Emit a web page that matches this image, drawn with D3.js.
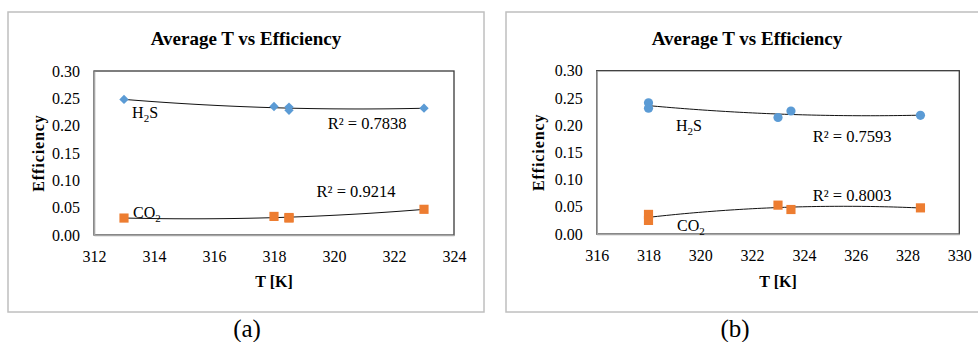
<!DOCTYPE html>
<html>
<head>
<meta charset="utf-8">
<script src="https://cdn.jsdelivr.net/npm/d3@7"></script>
<style>
  html, body { margin: 0; padding: 0; background: #fff; }
  svg { display: block; }
</style>
</head>
<body>
<svg id="chart" width="978" height="342"></svg>
<script>
// ---- data: panel (a) ----
const tempA = [313, 318, 318.5, 318.5, 323];
const h2sA  = [0.248, 0.235, 0.234, 0.228, 0.232];
const co2A  = [0.031, 0.034, 0.031, 0.032, 0.047];
const r2A   = ["R² = 0.7838", "R² = 0.9214"];
const xTicksA = [312, 314, 316, 318, 320, 322, 324];

// ---- data: panel (b) ----
const tempB = [318, 318, 323, 323.5, 328.5];
const h2sB  = [0.241, 0.231, 0.214, 0.226, 0.218];
const co2B  = [0.036, 0.025, 0.053, 0.045, 0.048];
const r2B   = ["R² = 0.7593", "R² = 0.8003"];
const xTicksB = [316, 318, 320, 322, 324, 326, 328, 330];

const yTicks = [0, 0.05, 0.10, 0.15, 0.20, 0.25, 0.30];
const titleText = "Average T vs Efficiency";

const BLUE = "#5B9BD5", ORANGE = "#ED7D31";
const FONT = "'Liberation Serif', 'Times New Roman', serif";

// least-squares quadratic trendline (order-2 polynomial fit)
function quadFit(xs, ys) {
  const m = d3.mean(xs);
  const u = xs.map(x => x - m);
  const s = k => d3.sum(u, v => Math.pow(v, k));
  const t = k => d3.sum(u, (v, i) => Math.pow(v, k) * ys[i]);
  const A = [[s(0), s(1), s(2)], [s(1), s(2), s(3)], [s(2), s(3), s(4)]];
  const B = [t(0), t(1), t(2)];
  for (let i = 0; i < 3; i++) {
    for (let j = i + 1; j < 3; j++) {
      const f = A[j][i] / A[i][i];
      for (let k = i; k < 3; k++) A[j][k] -= f * A[i][k];
      B[j] -= f * B[i];
    }
  }
  const c = [0, 0, 0];
  for (let i = 2; i >= 0; i--) {
    let v = B[i];
    for (let k = i + 1; k < 3; k++) v -= A[i][k] * c[k];
    c[i] = v / A[i][i];
  }
  return x => c[0] + c[1] * (x - m) + c[2] * (x - m) * (x - m);
}

const svg = d3.select("#chart");

// layout of each panel (pixels)
const panels = [
  {
    box: [8, 12, 476, 300], plot: [94, 71, 454, 235], titleX: 246,
    xDomain: [312, 324], xTicks: xTicksA, temps: tempA, h2s: h2sA, co2: co2A, r2: r2A,
    h2sMarker: "diamond", caption: "(a)", captionX: 247, yTitleX: 44,
    labels: { h2s: [313.27, 0.2146], r2h: [319.79, 0.1939], r2c: [319.42, 0.0701], co2: [313.3, 0.0311] }
  },
  {
    box: [506, 12, 480, 300], plot: [596.7, 70.7, 959.3, 234], titleX: 747,
    xDomain: [316, 330], xTicks: xTicksB, temps: tempB, h2s: h2sB, co2: co2B, r2: r2B,
    h2sMarker: "circle", caption: "(b)", captionX: 735, yTitleX: 543.5,
    labels: { h2s: [319.06, 0.1892], r2h: [324.34, 0.1696], r2c: [324.34, 0.0612], co2: [319.1, 0.0061] }
  }
];

panels.forEach(p => {
  const [bx, by, bw, bh] = p.box;
  const [x0, y0, x1, y1] = p.plot;
  const g = svg.append("g");

  g.append("rect").attr("x", bx).attr("y", by).attr("width", bw).attr("height", bh)
    .attr("fill", "#fff").attr("stroke", "#BFBFBF").attr("stroke-width", 1.5);

  const x = d3.scaleLinear().domain(p.xDomain).range([x0, x1]);
  const y = d3.scaleLinear().domain([0, 0.30]).range([y1, y0]);

  // plot area frame
  g.append("rect").attr("x", x0).attr("y", y0).attr("width", x1 - x0).attr("height", y1 - y0)
    .attr("fill", "none").attr("stroke", "#3A3A3A").attr("stroke-width", 1.3);

  // axes
  const ax = g.append("g").attr("transform", `translate(0,${y1})`)
    .call(d3.axisBottom(x).tickValues(p.xTicks).tickFormat(d3.format("d")).tickSize(0).tickPadding(15.5));
  const ay = g.append("g").attr("transform", `translate(${x0},0)`)
    .call(d3.axisLeft(y).tickValues(yTicks).tickFormat(d3.format(".2f")).tickSize(0).tickPadding(14));
  [ax, ay].forEach(a => {
    a.select(".domain").attr("stroke", "#A6A6A6").attr("stroke-width", 1.6);
    a.selectAll("text").attr("font-size", 16).attr("fill", "#000");
  });

  // titles
  g.append("text").attr("x", p.titleX).attr("y", 45).attr("text-anchor", "middle")
    .attr("font-size", 19).attr("font-weight", "bold").text(titleText);
  g.append("text").attr("x", (x0 + x1) / 2).attr("y", 287).attr("text-anchor", "middle")
    .attr("font-size", 16).attr("font-weight", "bold").text("T [K]");
  g.append("text").attr("transform", `translate(${p.yTitleX},${(y0 + y1) / 2}) rotate(-90)`)
    .attr("text-anchor", "middle").attr("font-size", 16).attr("font-weight", "bold")
    .attr("letter-spacing", 0.9).text("Efficiency");
  svg.append("text").attr("x", p.captionX).attr("y", 337).attr("text-anchor", "middle")
    .attr("font-size", 25).text(p.caption);

  // trendlines
  const line = d3.line().x(d => x(d[0])).y(d => y(d[1]));
  const ext = d3.extent(p.temps);
  [p.h2s, p.co2].forEach(vals => {
    const f = quadFit(p.temps, vals);
    const pts = d3.range(0, 61).map(i => {
      const t = ext[0] + (ext[1] - ext[0]) * i / 60;
      return [t, f(t)];
    });
    g.append("path").attr("d", line(pts)).attr("fill", "none")
      .attr("stroke", "#111").attr("stroke-width", 1);
  });

  // H2S markers
  const pairsH = p.temps.map((t, i) => [t, p.h2s[i]]);
  if (p.h2sMarker === "diamond") {
    g.selectAll(null).data(pairsH).join("path")
      .attr("d", d3.symbol(d3.symbolSquare, 44)())
      .attr("transform", d => `translate(${x(d[0])},${y(d[1])}) rotate(45)`)
      .attr("fill", BLUE);
  } else {
    g.selectAll(null).data(pairsH).join("circle")
      .attr("cx", d => x(d[0])).attr("cy", d => y(d[1])).attr("r", 4.6)
      .attr("fill", BLUE);
  }
  // CO2 markers
  const pairsC = p.temps.map((t, i) => [t, p.co2[i]]);
  g.selectAll(null).data(pairsC).join("path")
    .attr("d", d3.symbol(d3.symbolSquare, 84)())
    .attr("transform", d => `translate(${x(d[0])},${y(d[1])})`)
    .attr("fill", ORANGE);

  // series labels with subscripts
  function formula(pos, main, sub, tail) {
    const tx = g.append("text").attr("x", x(pos[0])).attr("y", y(pos[1])).attr("font-size", 16);
    tx.append("tspan").text(main);
    tx.append("tspan").attr("font-size", 11).attr("dy", 4).text(sub);
    if (tail) tx.append("tspan").attr("dy", -4).text(tail);
  }
  formula(p.labels.h2s, "H", "2", "S");
  formula(p.labels.co2, "CO", "2", "");
  g.append("text").attr("x", x(p.labels.r2h[0])).attr("y", y(p.labels.r2h[1]))
    .attr("font-size", 16.5).text(p.r2[0]);
  g.append("text").attr("x", x(p.labels.r2c[0])).attr("y", y(p.labels.r2c[1]))
    .attr("font-size", 16.5).text(p.r2[1]);
});

// serif face for every label
svg.selectAll("text").style("font-family", FONT).style("fill", "#000");
</script>
</body>
</html>
